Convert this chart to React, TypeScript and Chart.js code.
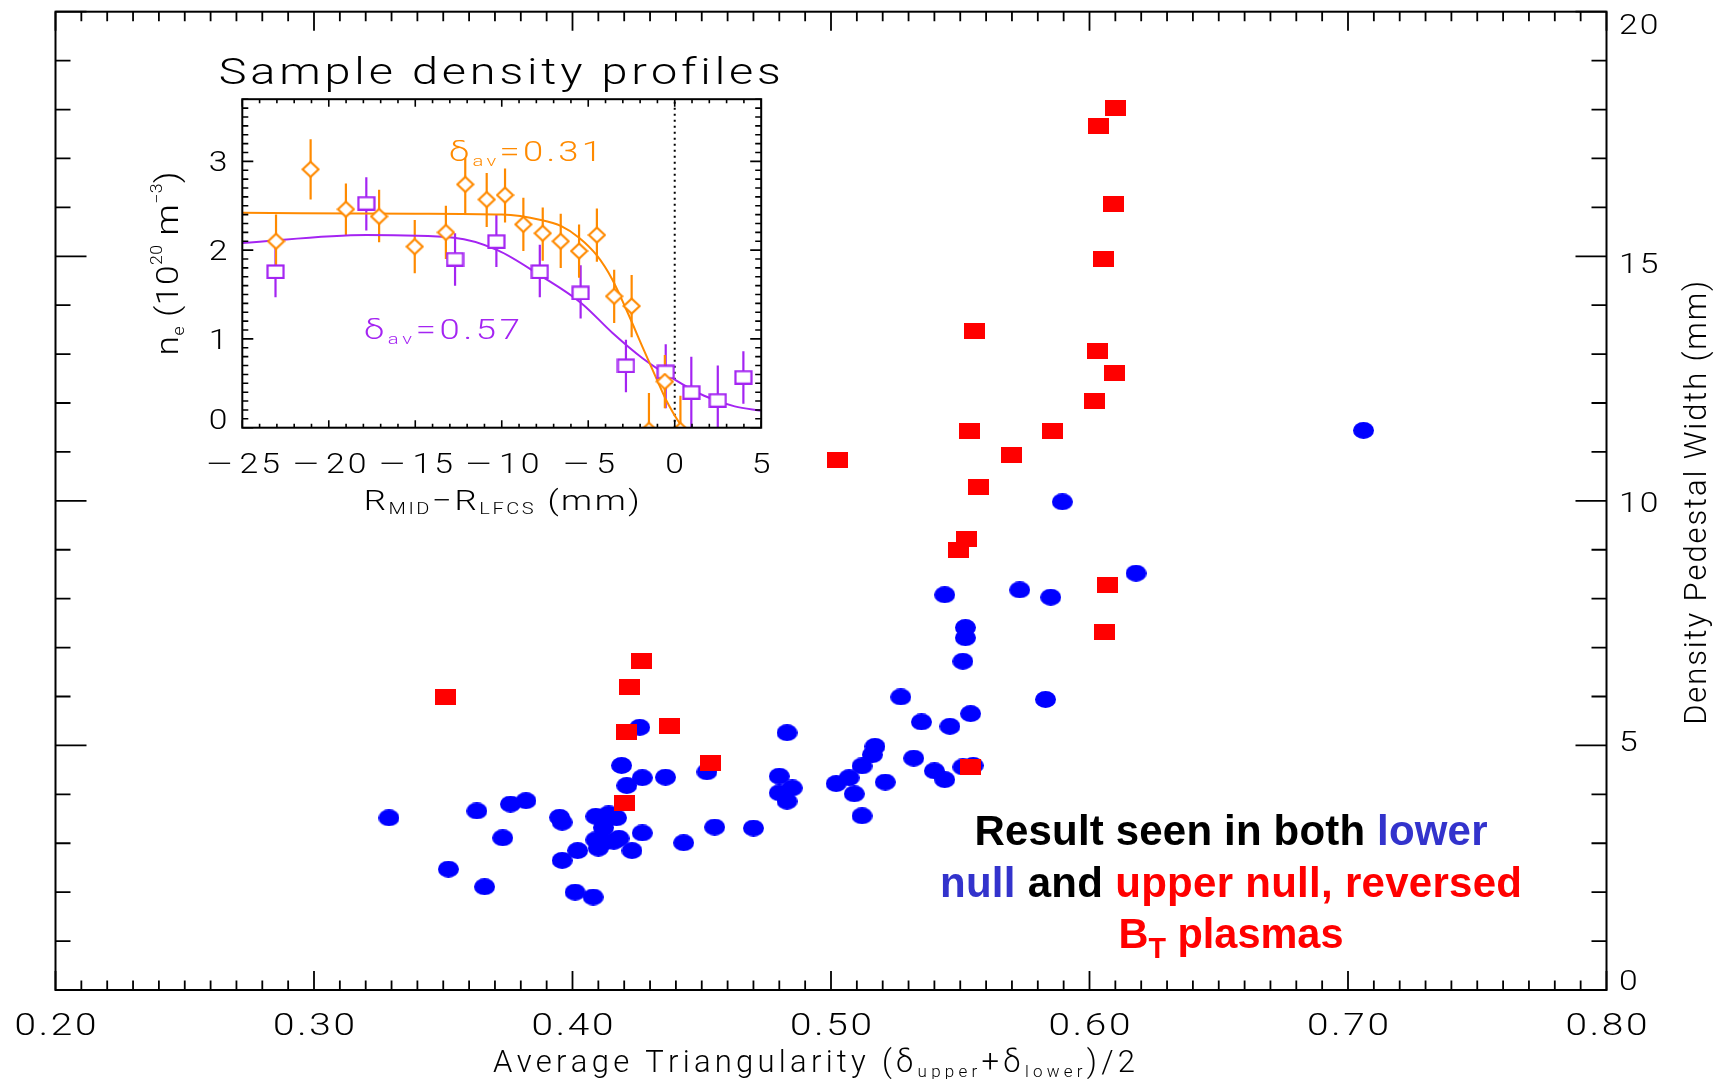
import { useEffect, useRef } from 'react';
import { Chart, registerables } from 'chart.js';

Chart.register(...registerables);

// ---- Main scatter: density pedestal width vs average triangularity ----
const lowerNullDelta = [
  0.329, 0.352, 0.366, 0.363, 0.373, 0.376, 0.382, 0.395, 0.396, 0.396,
  0.402, 0.401, 0.408, 0.409, 0.410, 0.409, 0.412, 0.414, 0.417, 0.4125,
  0.416, 0.418, 0.423, 0.419, 0.421, 0.427, 0.426, 0.427, 0.436, 0.443,
  0.452, 0.455, 0.470, 0.483, 0.480, 0.485, 0.480, 0.483, 0.502, 0.507,
  0.509, 0.512, 0.512, 0.516, 0.517, 0.521, 0.527, 0.532, 0.535, 0.540,
  0.544, 0.546, 0.551, 0.552, 0.552, 0.554, 0.551, 0.555, 0.583, 0.544,
  0.573, 0.585, 0.5895, 0.618, 0.706,
];
const lowerNullWidth = [
  3.52, 2.47, 2.11, 3.66, 3.11, 3.80, 3.87, 3.53, 3.43, 2.65,
  2.85, 2.00, 1.90, 3.55, 2.90, 3.07, 3.32, 3.60, 3.52, 3.03,
  3.04, 3.10, 2.85, 4.59, 4.18, 4.34, 5.37, 3.21, 4.35, 3.01,
  4.46, 3.33, 3.31, 5.26, 4.37, 4.13, 4.03, 3.86, 4.22, 4.34,
  4.01, 3.56, 4.58, 4.81, 4.98, 4.25, 5.99, 4.74, 5.48, 4.48,
  4.30, 5.39, 6.72, 7.20, 7.41, 5.65, 4.56, 4.59, 5.94, 8.08,
  8.18, 8.03, 9.98, 8.52, 11.44,
];
const upperNullDelta = [
  0.351, 0.4266, 0.4222, 0.421, 0.4374, 0.4534, 0.420, 0.5025, 0.5536, 0.5571,
  0.5554, 0.5524, 0.5494, 0.5699, 0.5856, 0.6019, 0.6032, 0.6096, 0.6053, 0.6091,
  0.6036, 0.6100, 0.6070, 0.6057, 0.5540,
];
const upperNullWidth = [
  5.99, 6.73, 6.19, 5.27, 5.40, 4.65, 3.82, 10.84, 11.42, 10.29,
  13.48, 9.23, 9.00, 10.93, 11.42, 12.04, 13.07, 12.62, 14.94, 16.06,
  17.67, 18.04, 8.27, 7.32, 4.55,
];

const deltaRange = [0.2, 0.8];
const deltaMinorStep = 0.01;
const deltaTicks = [0.2, 0.3, 0.4, 0.5, 0.6, 0.7, 0.8];
const deltaTickLabels = ['0.20', '0.30', '0.40', '0.50', '0.60', '0.70', '0.80'];
const widthRange = [0, 20];
const widthTicks = [0, 5, 10, 15, 20];
const widthTickLabels = ['0', '5', '10', '15', '20'];

// ---- Inset: sample density profiles ----
const lowDeltaR = [
  -23.05, -21.05, -19.01, -17.09, -15.03, -13.23, -12.11, -10.87, -9.81, -8.75,
  -7.63, -6.59, -5.53, -4.50, -3.50, -2.49, -1.49, -0.57, 0.33,
];
const lowDeltaNe = [
  2.10, 2.91, 2.46, 2.38, 2.04, 2.20, 2.74, 2.57, 2.62, 2.29,
  2.19, 2.10, 1.99, 2.17, 1.48, 1.37, -0.03, 0.52, -0.03,
];
const lowDeltaNeHi = [
  2.40, 3.25, 2.75, 2.68, 2.34, 2.50, 3.04, 2.87, 2.92, 2.59,
  2.48, 2.41, 2.29, 2.47, 1.78, 1.72, 0.39, 0.82, 0.36,
];
const lowDeltaNeLo = [
  1.79, 2.57, 2.16, 2.09, 1.74, 1.90, 2.41, 2.26, 2.31, 1.99,
  1.88, 1.80, 1.69, 1.87, 1.18, 1.02, -0.45, 0.22, -0.42,
];
const highDeltaR = [-23.08, -17.83, -12.70, -10.31, -7.80, -5.44, -2.82, -0.52, 0.96, 2.49, 3.97];
const highDeltaNe = [1.76, 2.53, 1.90, 2.10, 1.76, 1.52, 0.70, 0.63, 0.40, 0.31, 0.57];
const highDeltaNeHi = [2.08, 2.82, 2.19, 2.40, 2.06, 1.83, 0.99, 0.94, 0.80, 0.70, 0.86];
const highDeltaNeLo = [1.47, 2.22, 1.60, 1.81, 1.47, 1.23, 0.40, 0.22, -0.30, -0.30, 0.27];

const lowDeltaFitR = [-25, -15, -10, -7.74, -6.56, -5.53, -4.5, -3.61, -2.73, -1.84, -0.96, -0.52, -0.07, 0.45];
const lowDeltaFitNe = [2.42, 2.41, 2.40, 2.34, 2.27, 2.14, 1.94, 1.67, 1.30, 0.90, 0.51, 0.32, 0.16, 0.0];
const highDeltaFitR = [-25, -17.83, -12.76, -10.25, -7.74, -5.38, -3.61, -1.84, -0.07, 1.7, 3.47, 5];
const highDeltaFitNe = [2.08, 2.17, 2.14, 2.0, 1.71, 1.40, 1.07, 0.78, 0.55, 0.36, 0.24, 0.19];

const separatrixR = [0, 0];
const separatrixNe = [0, 3.7];

const rRange = [-25, 5];
const rTicks = [-25, -20, -15, -10, -5, 0, 5];
const rTickLabels = ['−25', '−20', '−15', '−10', '−5', '0', '5'];
const neRange = [0, 3.7];
const neTicks = [0, 1, 2, 3];
const neTickLabels = ['0', '1', '2', '3'];

const lowDeltaLabel = { r: -13.05, ne: 3.0, text: '0.31' };
const highDeltaLabel = { r: -17.97, ne: 1.0, text: '0.57' };

const ORANGE = '#FF8A00';
const PURPLE = '#A424F2';
const BLUE = '#0000FF';
const RED = '#FF0000';
const TEXT_BLUE = '#3333CC';
const LIGHT = 'Roboto, "Liberation Sans", sans-serif';
const BOLD = '"Liberation Sans", Arial, sans-serif';

type Seg = { t: string; size: number; dy?: number; color?: string; gap?: number; sx?: number };
type RichOpts = {
  align?: 'left' | 'center' | 'right';
  family: string;
  weight?: string | number;
  spacing?: number;
  width?: number;
  stretch?: number;
  angle?: number;
  color?: string;
};

// Draws mixed-size text (sub/superscripts) char by char; glyphs can be widened,
// and a target width is met with letter spacing (or horizontal compression).
function richText(ctx: CanvasRenderingContext2D, segs: Seg[], x: number, y: number, o: RichOpts) {
  ctx.save();
  ctx.translate(x, y);
  if (o.angle) ctx.rotate(o.angle);
  ctx.textBaseline = 'alphabetic';
  ctx.textAlign = 'left';
  const font = (s: number) => `${o.weight ?? 'normal'} ${s}px ${o.family}`;
  let natural = 0;
  let count = 0;
  let gaps = 0;
  for (const s of segs) {
    ctx.font = font(s.size);
    for (const ch of s.t) {
      natural += ctx.measureText(ch).width * (s.sx ?? 1);
      count++;
    }
    gaps += s.gap ?? 0;
  }
  let spacing = o.spacing ?? 0;
  let sx = o.stretch ?? 1;
  if (o.width !== undefined) {
    const free = o.width - natural * sx - gaps;
    if (free >= 0) spacing = count > 1 ? free / (count - 1) : 0;
    else {
      spacing = 0;
      sx = (o.width - gaps) / natural;
    }
  }
  const total = natural * sx + spacing * (count - 1) + gaps;
  let cx = o.align === 'center' ? -total / 2 : o.align === 'right' ? -total : 0;
  for (const s of segs) {
    ctx.font = font(s.size);
    ctx.fillStyle = s.color ?? o.color ?? '#000';
    const k = sx * (s.sx ?? 1);
    for (const ch of s.t) {
      const w = ctx.measureText(ch).width;
      ctx.save();
      ctx.translate(cx, s.dy ?? 0);
      ctx.scale(k, 1);
      ctx.fillText(ch, 0, 0);
      ctx.restore();
      cx += w * k + spacing;
    }
    cx += s.gap ?? 0;
  }
  ctx.restore();
}

function makeEllipse(w: number, h: number, color: string) {
  const c = document.createElement('canvas');
  c.width = w;
  c.height = h;
  const g = c.getContext('2d')!;
  g.fillStyle = color;
  g.beginPath();
  g.ellipse(w / 2, h / 2, w / 2, h / 2, 0, 0, Math.PI * 2);
  g.fill();
  return c;
}

function makeBox(w: number, h: number, color: string) {
  const c = document.createElement('canvas');
  c.width = w;
  c.height = h;
  const g = c.getContext('2d')!;
  g.fillStyle = color;
  g.fillRect(0, 0, w, h);
  return c;
}

function makeOpenDiamond(w: number, h: number, color: string) {
  const c = document.createElement('canvas');
  c.width = w + 3;
  c.height = h + 3;
  const g = c.getContext('2d')!;
  const cx = c.width / 2;
  const cy = c.height / 2;
  g.beginPath();
  g.moveTo(cx, cy - h / 2);
  g.lineTo(cx + w / 2, cy);
  g.lineTo(cx, cy + h / 2);
  g.lineTo(cx - w / 2, cy);
  g.closePath();
  g.fillStyle = '#fff';
  g.fill();
  g.strokeStyle = color;
  g.lineWidth = 2.2;
  g.stroke();
  return c;
}

function makeOpenSquare(w: number, h: number, color: string) {
  const c = document.createElement('canvas');
  c.width = w + 3;
  c.height = h + 3;
  const g = c.getContext('2d')!;
  g.fillStyle = '#fff';
  g.fillRect(1.5, 1.5, w, h);
  g.strokeStyle = color;
  g.lineWidth = 2.2;
  g.strokeRect(1.5, 1.5, w, h);
  return c;
}

const toPoints = (xs: number[], ys: number[]) => xs.map((x, i) => ({ x, y: ys[i] }));

const mainDecor = {
  id: 'mainDecor',
  afterDatasetsDraw(chart: any) {
    const { ctx, chartArea: a } = chart;
    const xs = chart.scales.x;
    const ys = chart.scales.y;
    ctx.save();
    ctx.strokeStyle = '#000';
    ctx.lineWidth = 1.8;
    ctx.beginPath();
    const nx = Math.round((deltaRange[1] - deltaRange[0]) / deltaMinorStep);
    for (let i = 0; i <= nx; i++) {
      const px = xs.getPixelForValue(deltaRange[0] + i * deltaMinorStep);
      const len = i % 10 === 0 ? 19 : 9.5;
      ctx.moveTo(px, a.bottom);
      ctx.lineTo(px, a.bottom - len);
      ctx.moveTo(px, a.top);
      ctx.lineTo(px, a.top + len);
    }
    for (let v = widthRange[0]; v <= widthRange[1]; v++) {
      const py = ys.getPixelForValue(v);
      const len = v % 5 === 0 ? 31 : 15;
      ctx.moveTo(a.left, py);
      ctx.lineTo(a.left + len, py);
      ctx.moveTo(a.right, py);
      ctx.lineTo(a.right - len, py);
    }
    ctx.stroke();
    ctx.lineWidth = 2;
    ctx.strokeRect(a.left, a.top, a.right - a.left, a.bottom - a.top);

    deltaTicks.forEach((v, i) => {
      richText(ctx, [{ t: deltaTickLabels[i], size: 31 }], xs.getPixelForValue(v), a.bottom + 45, {
        align: 'center', width: 82, stretch: 1.25, family: LIGHT, weight: 300,
      });
    });
    widthTicks.forEach((v, i) => {
      richText(ctx, [{ t: widthTickLabels[i], size: 28 }], a.right + 12.5, ys.getPixelForValue(v) + 1.125 * v, {
        align: 'left', spacing: 2, stretch: 1.2, family: LIGHT, weight: 300,
      });
    });

    // axis titles
    richText(
      ctx,
      [
        { t: 'Average Triangularity (δ', size: 31 },
        { t: 'upper', size: 17, dy: 5 },
        { t: '+δ', size: 31 },
        { t: 'lower', size: 17, dy: 5 },
        { t: ')/2', size: 31 },
      ],
      (a.left + a.right) / 2 - 17,
      a.bottom + 82,
      { align: 'center', width: 642, family: LIGHT, weight: 300 },
    );
    richText(ctx, [{ t: 'Density Pedestal Width (mm)', size: 31 }], a.right + 99.5, (a.top + a.bottom) / 2 + 2, {
      align: 'center', width: 444, family: LIGHT, weight: 300, angle: -Math.PI / 2,
    });

    // annotation
    richText(
      ctx,
      [
        { t: 'Result seen in both ', size: 42, color: '#000' },
        { t: 'lower', size: 42, color: TEXT_BLUE },
      ],
      1231, 845, { align: 'center', width: 513, family: BOLD, weight: 'bold' },
    );
    richText(
      ctx,
      [
        { t: 'null', size: 42, color: TEXT_BLUE },
        { t: ' and ', size: 42, color: '#000' },
        { t: 'upper null, reversed', size: 42, color: RED },
      ],
      1231, 896.7, { align: 'center', width: 582, family: BOLD, weight: 'bold' },
    );
    richText(
      ctx,
      [
        { t: 'B', size: 42, color: RED },
        { t: 'T', size: 29, dy: 10, color: RED },
        { t: ' plasmas', size: 42, color: RED },
      ],
      1231, 948, { align: 'center', width: 225, family: BOLD, weight: 'bold' },
    );
    ctx.restore();
  },
};

const insetDecor = {
  id: 'insetDecor',
  beforeDatasetsDraw(chart: any) {
    const { ctx, chartArea: a } = chart;
    const xs = chart.scales.x;
    const ys = chart.scales.y;
    ctx.save();
    ctx.beginPath();
    ctx.rect(a.left, a.top, a.right - a.left, a.bottom - a.top);
    ctx.clip();
    ctx.lineWidth = 2.2;
    const bars = (r: number[], hi: number[], lo: number[], color: string) => {
      ctx.strokeStyle = color;
      ctx.beginPath();
      r.forEach((v, i) => {
        const px = xs.getPixelForValue(v);
        ctx.moveTo(px, ys.getPixelForValue(hi[i]));
        ctx.lineTo(px, ys.getPixelForValue(lo[i]));
      });
      ctx.stroke();
    };
    bars(highDeltaR, highDeltaNeHi, highDeltaNeLo, PURPLE);
    bars(lowDeltaR, lowDeltaNeHi, lowDeltaNeLo, ORANGE);
    ctx.restore();
  },
  afterDatasetsDraw(chart: any) {
    const { ctx, chartArea: a } = chart;
    const xs = chart.scales.x;
    const ys = chart.scales.y;
    ctx.save();
    ctx.strokeStyle = '#000';
    ctx.lineWidth = 1.6;
    ctx.beginPath();
    for (let v = rRange[0]; v <= rRange[1]; v++) {
      const px = xs.getPixelForValue(v);
      const len = v % 5 === 0 ? 7.5 : 4;
      ctx.moveTo(px, a.bottom);
      ctx.lineTo(px, a.bottom - len);
      ctx.moveTo(px, a.top);
      ctx.lineTo(px, a.top + len);
    }
    const ny = Math.round((neRange[1] - neRange[0]) * 10);
    for (let i = 0; i <= ny; i++) {
      const py = ys.getPixelForValue(neRange[0] + i / 10);
      const len = i % 10 === 0 ? 11 : 6;
      ctx.moveTo(a.left, py);
      ctx.lineTo(a.left + len, py);
      ctx.moveTo(a.right, py);
      ctx.lineTo(a.right - len, py);
    }
    ctx.stroke();
    ctx.lineWidth = 2;
    ctx.strokeRect(a.left, a.top, a.right - a.left, a.bottom - a.top);

    rTicks.forEach((v, i) => {
      const lab = rTickLabels[i];
      const segs: Seg[] = lab.startsWith('−')
        ? [{ t: '−', size: 27, gap: 2, sx: 1.55 }, { t: lab.slice(1), size: 27 }]
        : [{ t: lab, size: 27 }];
      richText(ctx, segs, xs.getPixelForValue(v), a.bottom + 45, {
        align: 'center', spacing: 3, stretch: 1.25, family: LIGHT, weight: 300,
      });
    });
    neTicks.forEach((v, i) => {
      // the bottom label sits just above the frame instead of straddling it
      const base = Math.min(ys.getPixelForValue(v) + 10, a.bottom + 1);
      richText(ctx, [{ t: neTickLabels[i], size: 28 }], a.left - 15, base, {
        align: 'right', stretch: 1.2, family: LIGHT, weight: 300,
      });
    });

    richText(ctx, [{ t: 'Sample density profiles', size: 36 }], (a.left + a.right) / 2 - 2, a.top - 15.7, {
      align: 'center', width: 562, stretch: 1.3, family: LIGHT, weight: 300,
    });
    richText(
      ctx,
      [
        { t: 'R', size: 28 },
        { t: 'MID', size: 16, dy: 4 },
        { t: '−R', size: 28 },
        { t: 'LFCS', size: 16, dy: 4 },
        { t: ' (mm)', size: 28 },
      ],
      (a.left + a.right) / 2, a.bottom + 82,
      { align: 'center', width: 276, stretch: 1.25, family: LIGHT, weight: 300 },
    );
    richText(
      ctx,
      [
        { t: 'n', size: 32 },
        { t: 'e', size: 16, dy: 6 },
        { t: ' (10', size: 32 },
        { t: '20', size: 16, dy: -16 },
        { t: ' m', size: 32 },
        { t: '−3', size: 16, dy: -16 },
        { t: ')', size: 32 },
      ],
      a.left - 64.3, (a.top + a.bottom) / 2,
      { align: 'center', width: 184, stretch: 1.1, family: LIGHT, weight: 300, angle: -Math.PI / 2 },
    );

    richText(
      ctx,
      [
        { t: 'δ', size: 27 },
        { t: 'av', size: 15, dy: 5 },
        { t: '=' + lowDeltaLabel.text, size: 27 },
      ],
      xs.getPixelForValue(lowDeltaLabel.r), ys.getPixelForValue(lowDeltaLabel.ne),
      { align: 'left', width: 153, stretch: 1.35, family: LIGHT, weight: 300, color: ORANGE },
    );
    richText(
      ctx,
      [
        { t: 'δ', size: 27 },
        { t: 'av', size: 15, dy: 5 },
        { t: '=' + highDeltaLabel.text, size: 27 },
      ],
      xs.getPixelForValue(highDeltaLabel.r), ys.getPixelForValue(highDeltaLabel.ne),
      { align: 'left', width: 156, stretch: 1.35, family: LIGHT, weight: 300, color: PURPLE },
    );
    ctx.restore();
  },
};

export default function App() {
  const mainRef = useRef<HTMLCanvasElement>(null);
  const insetRef = useRef<HTMLCanvasElement>(null);

  useEffect(() => {
    const blueDot = makeEllipse(21, 17, BLUE);
    const redBox = makeBox(21, 16, RED);
    const orangeDiamond = makeOpenDiamond(16, 15, ORANGE);
    const purpleSquare = makeOpenSquare(16, 12.5, PURPLE);

    const main = new Chart(mainRef.current!, {
      type: 'scatter',
      data: {
        datasets: [
          {
            label: 'upper null, reversed BT',
            data: toPoints(upperNullDelta, upperNullWidth),
            pointStyle: redBox as any,
            pointRadius: 10,
            order: 0,
          },
          {
            label: 'lower null',
            data: toPoints(lowerNullDelta, lowerNullWidth),
            pointStyle: blueDot as any,
            pointRadius: 10,
            order: 1,
          },
        ],
      },
      options: {
        responsive: false,
        animation: false,
        devicePixelRatio: 1,
        layout: { padding: { left: 55.5, top: 11.7, right: 121.5, bottom: 89 } },
        plugins: { legend: { display: false }, tooltip: { enabled: false } },
        scales: {
          x: { type: 'linear', display: false, min: deltaRange[0], max: deltaRange[1] },
          y: { type: 'linear', display: false, min: widthRange[0], max: widthRange[1] },
        },
      },
      plugins: [mainDecor],
    });

    const inset = new Chart(insetRef.current!, {
      type: 'scatter',
      data: {
        datasets: [
          {
            label: 'δav = 0.31',
            data: toPoints(lowDeltaR, lowDeltaNe),
            pointStyle: orangeDiamond as any,
            pointRadius: 8,
            order: 0,
            clip: 0,
          },
          {
            label: 'δav = 0.57',
            data: toPoints(highDeltaR, highDeltaNe),
            pointStyle: purpleSquare as any,
            pointRadius: 8,
            order: 1,
            clip: 0,
          },
          {
            label: 'fit δav = 0.31',
            data: toPoints(lowDeltaFitR, lowDeltaFitNe),
            showLine: true,
            borderColor: ORANGE,
            borderWidth: 2,
            pointRadius: 0,
            cubicInterpolationMode: 'monotone',
            order: 2,
            clip: 0,
          },
          {
            label: 'fit δav = 0.57',
            data: toPoints(highDeltaFitR, highDeltaFitNe),
            showLine: true,
            borderColor: PURPLE,
            borderWidth: 2,
            pointRadius: 0,
            cubicInterpolationMode: 'monotone',
            order: 3,
            clip: 0,
          },
          {
            label: 'separatrix',
            data: toPoints(separatrixR, separatrixNe),
            showLine: true,
            borderColor: '#000',
            borderWidth: 2,
            borderDash: [2, 4],
            pointRadius: 0,
            order: 4,
            clip: 0,
          },
        ] as any,
      },
      options: {
        responsive: false,
        animation: false,
        devicePixelRatio: 1,
        layout: { padding: { left: 142.3, top: 79.2, right: 58.8, bottom: 112.3 } },
        plugins: { legend: { display: false }, tooltip: { enabled: false } },
        scales: {
          x: { type: 'linear', display: false, min: rRange[0], max: rRange[1] },
          y: { type: 'linear', display: false, min: neRange[0], max: neRange[1] },
        },
      },
      plugins: [insetDecor],
    });

    return () => {
      main.destroy();
      inset.destroy();
    };
  }, []);

  return (
    <div style={{ position: 'fixed', left: 0, top: 0, width: 1728, height: 1079, background: '#fff' }}>
      <canvas ref={mainRef} width={1728} height={1079} style={{ position: 'absolute', left: 0, top: 0 }} />
      <canvas ref={insetRef} width={720} height={520} style={{ position: 'absolute', left: 100, top: 20 }} />
    </div>
  );
}
